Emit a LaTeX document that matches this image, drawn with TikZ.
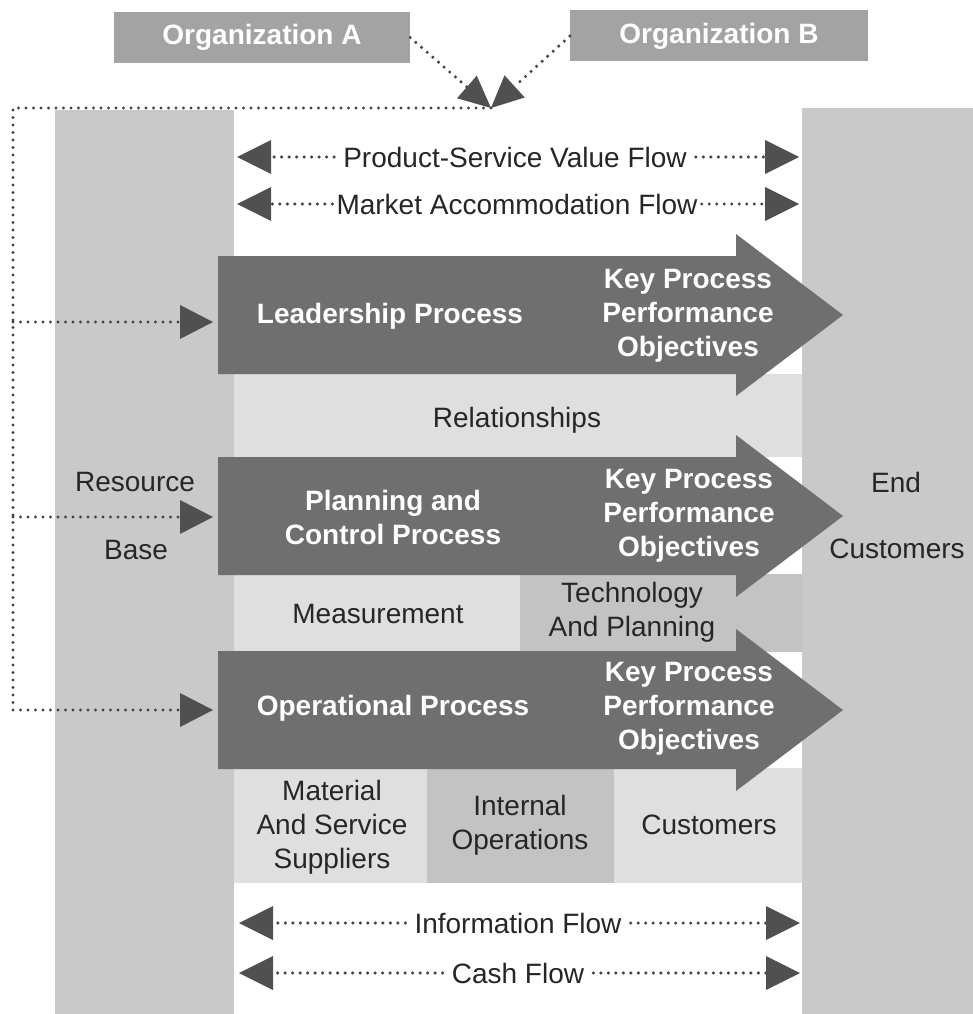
\documentclass[tikz,border=0pt]{standalone}
\usepackage{fontspec}
\setmainfont{Liberation Sans}
\usetikzlibrary{arrows.meta}

\definecolor{colgray}{HTML}{C9C9C9}
\definecolor{bandlight}{HTML}{DFDFDF}
\definecolor{bandmid}{HTML}{C3C3C3}
\definecolor{procgray}{HTML}{6F6F6F}
\definecolor{orggray}{HTML}{A3A3A3}
\definecolor{tipdark}{HTML}{505050}
\definecolor{dotgray}{HTML}{444444}
\definecolor{textdark}{HTML}{262626}

\tikzset{
  pics/procarrow/.style={code={
    \fill[procgray] (0,-59) -- (518,-59) -- (518,-81) -- (625,0)
      -- (518,81) -- (518,59) -- (0,59) -- cycle;
  }}
}

\begin{document}
\begin{tikzpicture}[
    x=1pt, y=-1pt,
    txt/.style={font=\fontsize{28}{34}\selectfont, text=textdark, align=center, inner sep=0pt},
    wtxt/.style={font=\fontsize{28}{34}\selectfont\bfseries, text=white, align=center, inner sep=0pt},
    org/.style={fill=orggray, minimum width=296pt, minimum height=51pt, inner sep=0pt,
                font=\fontsize{28}{34}\selectfont\bfseries, text=white},
    flow/.style={txt, inner xsep=9pt},
    dots/.style={draw=dotgray, line width=3.4pt, line cap=round, dash pattern=on 0pt off 7.5pt},
    bigtip/.style={-{Triangle[length=34pt, width=34pt, line width=0pt, color=tipdark]}},
    orgtip/.style={-{Triangle[length=32pt, width=30pt, line width=0pt, color=tipdark]}},
    fbtip/.style={-{Triangle[length=33pt, width=34pt, line width=0pt, color=tipdark]}}
  ]
  \useasboundingbox (0,0) rectangle (973,1014);
  \fill[white] (0,0) rectangle (973,1014);

  % columns and bands
  \fill[colgray] (55,110) rectangle (234,1014);
  \fill[colgray] (802,108) rectangle (973,1014);
  \fill[bandlight] (234,374) rectangle (802,457);
  \fill[bandlight] (234,574) rectangle (520,652);
  \fill[bandmid]   (520,574) rectangle (802,652);
  \fill[bandlight] (234,768) rectangle (427,883);
  \fill[bandmid]   (427,768) rectangle (614,883);
  \fill[bandlight] (614,768) rectangle (802,883);

  % process arrows
  \pic at (218,315) {procarrow};
  \pic at (218,516) {procarrow};
  \pic at (218,710) {procarrow};

  \node[org] (orgA) at (262,37.5) {Organization A};
  \node[org, minimum width=298pt] (orgB) at (719,36) {Organization B};

  \node[flow] (psv)  at (515,157) {Product-Service Value Flow};
  \node[flow, inner xsep=4pt] (maf) at (517,204) {Market Accommodation Flow};
  \node[flow] (inf)  at (518,923) {Information Flow};
  \node[flow] (cash) at (518,973) {Cash Flow};

  \node[wtxt] (lead) at (390,316) {Leadership Process};
  \node[wtxt] (plan) at (393,517) {Planning and\\Control Process};
  \node[wtxt] (oper) at (393,708) {Operational Process};
  \node[wtxt] (kp1) at (688,316) {Key Process\\Performance\\Objectives};
  \node[wtxt] (kp2) at (689,516) {Key Process\\Performance\\Objectives};
  \node[wtxt] (kp3) at (689,709) {Key Process\\Performance\\Objectives};

  \node[txt] (rel)  at (517,420) {Relationships};
  \node[txt] (meas) at (378,614) {Measurement};
  \node[txt] (tech) at (632,612) {Technology\\And Planning};
  \node[txt] (supp) at (332,827) {Material\\And Service\\Suppliers};
  \node[txt] (intop) at (520,825) {Internal\\Operations};
  \node[txt] (cust) at (709,825) {Customers};

  \node[txt] (res)  at (135,482) {Resource};
  \node[txt] (base) at (136,550) {Base};
  \node[txt] (endc) at (896,482) {End};
  \node[txt] (endcu) at (897,549) {Customers};

  \coordinate (psvL) at (237,157);  \coordinate (psvR) at (799,157);
  \coordinate (mafL) at (237,204);  \coordinate (mafR) at (799,204);
  \coordinate (infL) at (239,923);  \coordinate (infR) at (800,923);
  \coordinate (cashL) at (239,973); \coordinate (cashR) at (800,973);
  \coordinate (merge) at (491,108);
  \coordinate (corner) at (13,108);
  \coordinate (fb1) at (213,322);
  \coordinate (fb2) at (213,517);
  \coordinate (fb3) at (213,710);

  \draw[dots, bigtip] (psv.west) -- (psvL);
  \draw[dots, bigtip] (psv.east) -- (psvR);
  \draw[dots, bigtip] (maf.west) -- (mafL);
  \draw[dots, bigtip] (maf.east) -- (mafR);
  \draw[dots, bigtip] (inf.west) -- (infL);
  \draw[dots, bigtip] (inf.east) -- (infR);
  \draw[dots, bigtip] (cash.west) -- (cashL);
  \draw[dots, bigtip] (cash.east) -- (cashR);

  \draw[dots, orgtip] (orgA.east) -- (merge);
  \draw[dots, orgtip] (orgB.west) -- (merge);

  \draw[dots, fbtip] (merge) -- (corner) |- (fb3);
  \draw[dots, fbtip] (corner |- fb1) -- (fb1);
  \draw[dots, fbtip] (corner |- fb2) -- (fb2);
\end{tikzpicture}
\end{document}
